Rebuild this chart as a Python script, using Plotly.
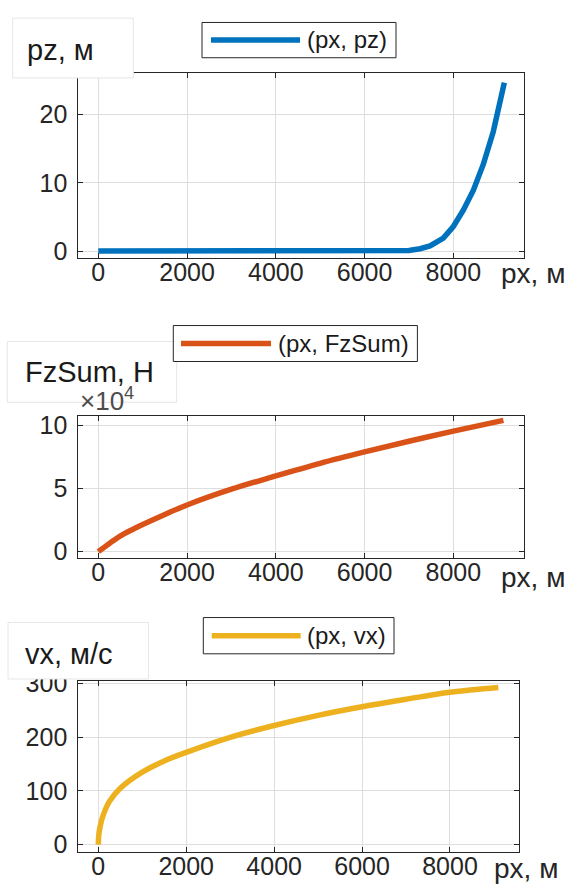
import plotly.graph_objects as go

# ---- data -------------------------------------------------------------
px_pz = [0, 1000, 2000, 3000, 4000, 5000, 6000, 7000, 7250, 7475, 7775,
         8000, 8225, 8450, 8675, 8900, 9150]
pz = [0, 0, 0, 0, 0, 0, 0, 0.1, 0.35, 0.75, 1.9,
      3.6, 6.0, 8.9, 12.7, 17.5, 24.7]

px_fz = [0, 250, 500, 750, 1000, 1500, 2000, 3000, 4000, 5000, 6000, 7000, 8000, 9130]
fz_sum = [0, 6500, 12500, 17200, 21500, 29500, 37000, 49500, 60000, 70000, 79000,
          87500, 95500, 104000]

px_vx = [0, 10, 40, 100, 250, 500, 1000, 1500, 2000, 3000, 4000, 5000, 6000,
         7000, 8000, 9100]
vx = [0, 17, 33, 52, 80, 105, 135, 156, 172, 200, 222, 241, 257, 271, 284, 293]

x_ticks = [0, 2000, 4000, 6000, 8000]
pz_ticks = [0, 10, 20]
fz_ticks = [0, 5, 10]
vx_ticks = [0, 100, 200, 300]

FZ_SCALE = 1e4

BLUE = "#0072BD"
ORANGE = "#D95319"
YELLOW = "#EDB120"
AX = "#262626"
GRID = "#dedede"
FONT = "Liberation Sans, Arial, sans-serif"

W, H = 568, 895


def fx(p):
    return p / W


def fy(p):
    return 1 - p / H


fig = go.Figure()

fig.add_trace(go.Scatter(x=px_pz, y=pz, mode="lines", name="(px, pz)",
                         line=dict(color=BLUE, width=5.5),
                         xaxis="x", yaxis="y", showlegend=False))
fig.add_trace(go.Scatter(x=px_fz, y=[v / FZ_SCALE for v in fz_sum], mode="lines",
                         name="(px, FzSum)", line=dict(color=ORANGE, width=5.5, shape="spline"),
                         xaxis="x2", yaxis="y2", showlegend=False))
fig.add_trace(go.Scatter(x=px_vx, y=vx, mode="lines", name="(px, vx)",
                         line=dict(color=YELLOW, width=5.5, shape="spline"),
                         xaxis="x3", yaxis="y3", showlegend=False))


def xax(domain, rng, anchor):
    return dict(domain=domain, range=rng, anchor=anchor, tickvals=x_ticks,
                showgrid=True, gridcolor=GRID, gridwidth=1, zeroline=False,
                showline=True, linecolor=AX, linewidth=1, mirror="all",
                ticks="inside", ticklen=5, tickcolor=AX,
                tickfont=dict(family=FONT, size=25, color=AX),
                ticklabelstandoff=-8)


def yax(domain, rng, anchor, ticks):
    return dict(domain=domain, range=rng, anchor=anchor, tickvals=ticks,
                showgrid=True, gridcolor=GRID, gridwidth=1, zeroline=False,
                showline=True, linecolor=AX, linewidth=1, mirror="all",
                ticks="inside", ticklen=5, tickcolor=AX,
                tickfont=dict(family=FONT, size=25, color=AX),
                ticklabelstandoff=5)


# plot areas (pixel bounds)
p1 = (78.3, 524, 63.3, 251.7)
p2 = (78.3, 524, 413.3, 558.3)
p3 = (78.3, 519, 683.3, 858.3)

fig.update_layout(
    width=W, height=H, margin=dict(l=0, r=0, t=0, b=0),
    paper_bgcolor="white", plot_bgcolor="white",
    showlegend=False,
    xaxis=xax([fx(p1[0]), fx(p1[1])], [-451, 9593], "y"),
    yaxis=yax([fy(p1[3]), fy(p1[2])], [-0.96, 26.1], "x", pz_ticks),
    xaxis2=xax([fx(p2[0]), fx(p2[1])], [-451, 9593], "y2"),
    yaxis2=yax([fy(p2[3]), fy(p2[2])], [-0.51, 10.75], "x2", fz_ticks),
    xaxis3=xax([fx(p3[0]), fx(p3[1])], [-455, 9570], "y3"),
    yaxis3=yax([fy(p3[3]), fy(p3[2])], [-13.9, 305.8], "x3", vx_ticks),
)

shapes = []
annotations = []


def label_box(x0, x1, y0, y1, text, tx, ty):
    shapes.append(dict(type="rect", xref="paper", yref="paper",
                       x0=fx(x0), x1=fx(x1), y0=fy(y1), y1=fy(y0),
                       line=dict(color="#e6e6e6", width=1), fillcolor="white",
                       layer="above"))
    annotations.append(dict(text=text, xref="paper", yref="paper",
                            x=fx(tx), y=fy(ty), xanchor="left", yanchor="middle",
                            showarrow=False,
                            font=dict(family=FONT, size=29, color="#1a1a1a")))


def legend_box(x0, x1, y0, y1, lx0, lx1, ly, color, text, tx):
    shapes.append(dict(type="rect", xref="paper", yref="paper",
                       x0=fx(x0), x1=fx(x1), y0=fy(y1), y1=fy(y0),
                       line=dict(color=AX, width=1), fillcolor="white",
                       layer="above"))
    shapes.append(dict(type="line", xref="paper", yref="paper",
                       x0=fx(lx0), x1=fx(lx1), y0=fy(ly), y1=fy(ly),
                       line=dict(color=color, width=5.5), layer="above"))
    annotations.append(dict(text=text, xref="paper", yref="paper",
                            x=fx(tx), y=fy(ly), xanchor="left", yanchor="middle",
                            showarrow=False,
                            font=dict(family=FONT, size=24, color="#1a1a1a")))


def x_label(xr, yc):
    annotations.append(dict(text="px, м", xref="paper", yref="paper",
                            x=fx(xr), y=fy(yc), xanchor="right", yanchor="middle",
                            showarrow=False,
                            font=dict(family=FONT, size=28, color=AX)))


# panel 1
label_box(12.7, 133.3, 7.3, 68.3, "pz, м", 25, 40)
legend_box(202, 396, 11.7, 47.7, 211, 300, 29.5, BLUE, "(px, pz)", 305)
x_label(567, 268)

# panel 2
label_box(7.3, 176.7, 337.3, 399.3, "FzSum, H", 23, 368.3)
legend_box(173.3, 417.4, 321, 357.7, 181, 271, 339.3, ORANGE, "(px, FzSum)", 276)
annotations.append(dict(text="×10<sup>4</sup>", xref="paper", yref="paper",
                        x=fx(78), y=fy(396), xanchor="left", yanchor="middle",
                        showarrow=False,
                        font=dict(family=FONT, size=26, color="#4d4d4d")))
x_label(567, 578)

# panel 3
label_box(8, 148.5, 624, 681.7, "vx, м/с", 23, 656.7)
legend_box(203.3, 394, 619, 656, 211.7, 300.7, 637.7, YELLOW, "(px, vx)", 305)
x_label(560, 875)

fig.update_layout(shapes=shapes, annotations=annotations)

fig.write_html("out.html")
